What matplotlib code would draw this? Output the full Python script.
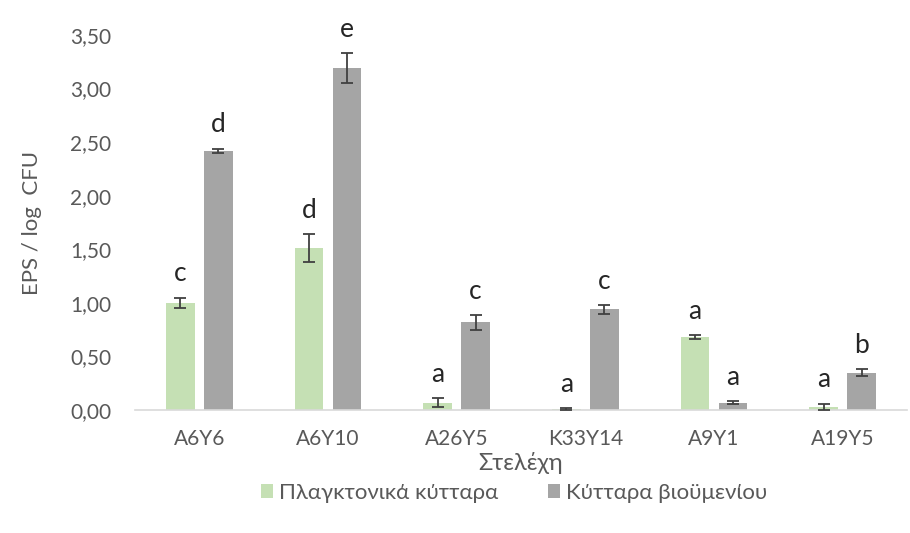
import numpy as np
import matplotlib.pyplot as plt
from matplotlib.ticker import FuncFormatter

plt.rcParams['font.family'] = ['Lato', 'DejaVu Sans']

# Data
strains = ['A6Y6', 'A6Y10', 'A26Y5', 'K33Y14', 'A9Y1', 'A19Y5']
planktonic = np.array([1.00, 1.51, 0.07, 0.01, 0.68, 0.03])
planktonic_err = np.array([0.05, 0.13, 0.04, 0.01, 0.02, 0.03])
planktonic_letters = ['c', 'd', 'a', 'a', 'a', 'a']
biofilm = np.array([2.42, 3.19, 0.82, 0.94, 0.07, 0.35])
biofilm_err = np.array([0.02, 0.14, 0.07, 0.04, 0.01, 0.03])
biofilm_letters = ['d', 'e', 'c', 'c', 'a', 'b']

green = '#C5E0B4'
gray = '#A5A5A5'
txt = '#595959'

fig = plt.figure(figsize=(9.1, 5.33), dpi=100)
ax = fig.add_axes([135 / 910, 1 - 410 / 533, 772 / 910, 375 / 533])

x = np.arange(len(strains))
w = 0.225
gap = 0.07
xg = x - (w + gap) / 2
xb = x + (w + gap) / 2

ax.bar(xg, planktonic, w, color=green, label='Πλαγκτονικά κύτταρα', zorder=2)
ax.bar(xb, biofilm, w, color=gray, label='Κύτταρα βιοϋμενίου', zorder=2)
ekw = dict(fmt='none', ecolor='#404040', elinewidth=1.3, capsize=4, capthick=1.3, zorder=3)
ax.errorbar(xg, planktonic, yerr=planktonic_err, **ekw)
ax.errorbar(xb, biofilm, yerr=biofilm_err, **ekw)

for xs, vals, errs, letters in [(xg, planktonic, planktonic_err, planktonic_letters),
                                (xb, biofilm, biofilm_err, biofilm_letters)]:
    for xi, v, e, l in zip(xs, vals, errs, letters):
        ax.annotate(l, (xi, v + e), xytext=(0, 8), textcoords='offset points',
                    ha='center', va='bottom', fontsize=19, color='#262626',
                    annotation_clip=False)

ax.set_xlim(-0.5, len(strains) - 0.5)
ax.set_ylim(0, 3.5)
ax.set_yticks(np.arange(0, 3.51, 0.5))
ax.yaxis.set_major_formatter(FuncFormatter(lambda v, p: f'{v:.2f}'.replace('.', ',')))
ax.set_xticks(x)
ax.set_xticklabels(strains)
ax.tick_params(axis='both', length=0, labelsize=15, colors=txt)
ax.tick_params(axis='x', pad=14)
ax.tick_params(axis='y', pad=17)

for s in ['top', 'right', 'left']:
    ax.spines[s].set_visible(False)
ax.spines['bottom'].set_color('#D9D9D9')
ax.spines['bottom'].set_linewidth(1.2)

ax.set_xlabel('Στελέχη', fontsize=17, color=txt, labelpad=2)
ax.set_ylabel('EPS / log  CFU', fontsize=16, color=txt, labelpad=20)

leg = fig.legend(loc='center', bbox_to_anchor=(0.565, 1 - 493 / 533), ncol=2, frameon=False,
                 fontsize=16, handlelength=0.55, handleheight=0.55, handletextpad=0.3,
                 columnspacing=2.2)
for t in leg.get_texts():
    t.set_color(txt)

fig.savefig('out.png', dpi=100)
